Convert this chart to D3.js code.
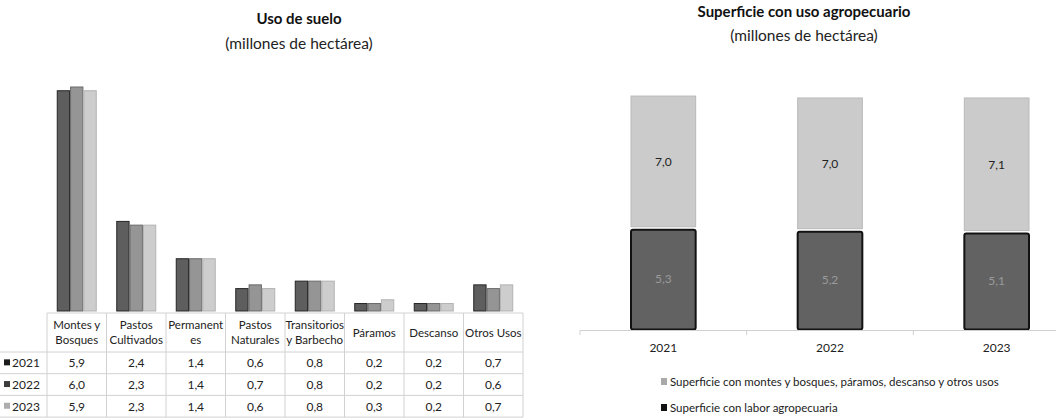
<!DOCTYPE html>
<html>
<head>
<meta charset="utf-8">
<script src="https://cdn.jsdelivr.net/npm/d3@7"></script>
<style>
  body { margin: 0; background: #fff; }
  svg { display: block; font-family: 'Lato', sans-serif; }
</style>
</head>
<body>
<div id="chart"></div>
<script>
// left chart data
const categories = [['Montes y', 'Bosques'], ['Pastos', 'Cultivados'], ['Permanent', 'es'], ['Pastos', 'Naturales'],
  ['Transitorios', 'y Barbecho'], ['Páramos'], ['Descanso'], ['Otros Usos']];
const years = ['2021', '2022', '2023'];
const values2021 = [5.9, 2.4, 1.4, 0.6, 0.8, 0.2, 0.2, 0.7];
const values2022 = [6.0, 2.3, 1.4, 0.7, 0.8, 0.2, 0.2, 0.6];
const values2023 = [5.9, 2.3, 1.4, 0.6, 0.8, 0.3, 0.2, 0.7];

// right chart data
const labor = [5.3, 5.2, 5.1];
const montes = [7.0, 7.0, 7.1];
const legendLabels = ['Superficie con montes y bosques, páramos, descanso y otros usos', 'Superficie con labor agropecuaria'];

const width = 1056;
const height = 419;
const fmt = d3.formatLocale({ decimal: ',', thousands: '.', grouping: [3], currency: ['', ''] }).format('.1f');

const svg = d3.select('#chart').append('svg')
  .attr('width', width)
  .attr('height', height);

// ---------- left: grouped bars + data table ----------
const series = [values2021, values2022, values2023];
const barFill = ['#5e5e5e', '#959595', '#cdcdcd'];
const barStroke = ['#262626', '#6a6a6a', '#b2b2b2'];
const keyFill = ['#1c1c1c', '#3c3c3c', '#adadad'];
const gridColor = '#d2d2d2';

const tableTop = 313;
const headerH = 39;
const rowH = 21.7;

const x0 = d3.scaleBand()
  .domain(categories.map((d, i) => i))
  .range([47, 523]);

const x1 = d3.scaleBand()
  .domain(years)
  .range([0, 40]);

const yLeft = d3.scaleLinear()
  .domain([0, 6])
  .range([311, 87]);

svg.append('text')
  .attr('x', 299).attr('y', 24)
  .attr('text-anchor', 'middle')
  .style('font-weight', 'bold')
  .style('font-size', '15px')
  .style('fill', '#111')
  .text('Uso de suelo');

svg.append('text')
  .attr('x', 299).attr('y', 49)
  .attr('text-anchor', 'middle')
  .style('font-size', '15.5px')
  .style('fill', '#222')
  .text('(millones de hectárea)');

const groups = svg.append('g').classed('bars', true)
  .selectAll('g')
  .data(categories.map((c, i) => i))
  .enter()
  .append('g')
  .attr('transform', i => `translate(${x0(i) + (x0.bandwidth() - 40) / 2},0)`);

groups.selectAll('rect')
  .data(i => series.map((s, k) => ({ k: k, v: s[i] })))
  .enter()
  .append('rect')
  .attr('x', d => x1(years[d.k]) + 0.5)
  .attr('y', d => yLeft(d.v))
  .attr('width', x1.bandwidth() - 1)
  .attr('height', d => yLeft(0) - yLeft(d.v))
  .style('fill', d => barFill[d.k])
  .style('stroke', d => barStroke[d.k])
  .style('stroke-width', 1);

// table grid
const table = svg.append('g').classed('table', true);
const tableBottom = tableTop + headerH + rowH * 3;

table.append('line')
  .attr('x1', 47).attr('x2', 523)
  .attr('y1', tableTop).attr('y2', tableTop)
  .style('stroke', gridColor);

d3.range(4).forEach(r => {
  const yy = tableTop + headerH + r * rowH;
  table.append('line')
    .attr('x1', 0).attr('x2', 523)
    .attr('y1', yy).attr('y2', yy)
    .style('stroke', gridColor);
});

x0.domain().concat([categories.length]).forEach(i => {
  const xx = i < categories.length ? x0(i) : x0.range()[1];
  table.append('line')
    .attr('x1', xx).attr('x2', xx)
    .attr('y1', tableTop).attr('y2', tableBottom)
    .style('stroke', gridColor);
});

// header labels
categories.forEach((c, i) => {
  const cx = x0(i) + x0.bandwidth() / 2;
  const t = table.append('text')
    .attr('text-anchor', 'middle')
    .style('font-size', '11.5px')
    .style('fill', '#222');
  const startY = c.length === 2 ? tableTop + 16 : tableTop + 24;
  c.forEach((line, j) => {
    t.append('tspan')
      .attr('x', cx)
      .attr('y', startY + j * 15)
      .text(line);
  });
});

// rows
years.forEach((yr, k) => {
  const yy = tableTop + headerH + k * rowH;
  table.append('rect')
    .attr('x', 4).attr('y', yy + rowH / 2 - 3.5)
    .attr('width', 6).attr('height', 6)
    .style('fill', keyFill[k]);
  table.append('text')
    .attr('x', 12).attr('y', yy + rowH / 2 + 4.5)
    .style('font-size', '12px')
    .style('fill', '#222')
    .text(yr);
  series[k].forEach((v, i) => {
    table.append('text')
      .attr('x', x0(i) + x0.bandwidth() / 2)
      .attr('y', yy + rowH / 2 + 4.5)
      .attr('text-anchor', 'middle')
      .style('font-size', '12px')
      .style('fill', '#222')
      .text(fmt(v));
  });
});

// ---------- right: stacked bars ----------
const xr = d3.scaleBand()
  .domain(years)
  .range([580, 1080]);

const yRight = d3.scaleLinear()
  .domain([0, 14])
  .range([330, 330 - 14 * 19.1]);

svg.append('text')
  .attr('x', 804).attr('y', 17)
  .attr('text-anchor', 'middle')
  .style('font-weight', 'bold')
  .style('font-size', '15px')
  .style('fill', '#111')
  .text('Superficie con uso agropecuario');

svg.append('text')
  .attr('x', 804).attr('y', 41)
  .attr('text-anchor', 'middle')
  .style('font-size', '15.5px')
  .style('fill', '#222')
  .text('(millones de hectárea)');

const stackData = years.map((yr, i) => ({ year: yr, labor: labor[i], montes: montes[i] }));
const stacked = d3.stack().keys(['labor', 'montes'])(stackData);
const stackFill = { labor: '#626262', montes: '#cbcbcb' };
const stackStroke = { labor: '#121212', montes: '#b9b9b9' };
const labelColor = { labor: '#9a9a9a', montes: '#222' };

const barW = xr.bandwidth() * 0.4;

const layers = svg.append('g').classed('stack', true)
  .selectAll('g')
  .data(stacked)
  .enter()
  .append('g');

layers.selectAll('rect')
  .data(layer => layer.map(d => ({ key: layer.key, d: d })))
  .enter()
  .append('rect')
  .attr('x', e => xr(e.d.data.year) + (xr.bandwidth() - barW) / 2 + 1)
  .attr('y', e => yRight(e.d[1]) + 1)
  .attr('width', barW - 2)
  .attr('height', e => yRight(e.d[0]) - yRight(e.d[1]) - (e.key === 'labor' ? 1.5 : 3))
  .attr('rx', e => e.key === 'labor' ? 2 : 0)
  .style('fill', e => stackFill[e.key])
  .style('stroke', e => stackStroke[e.key])
  .style('stroke-width', e => e.key === 'labor' ? 2 : 1);

layers.selectAll('text')
  .data(layer => layer.map(d => ({ key: layer.key, d: d })))
  .enter()
  .append('text')
  .attr('x', e => xr(e.d.data.year) + xr.bandwidth() / 2)
  .attr('y', e => (yRight(e.d[0]) + yRight(e.d[1])) / 2 + 4)
  .attr('text-anchor', 'middle')
  .style('font-size', '12px')
  .style('fill', e => labelColor[e.key])
  .text(e => fmt(e.d[1] - e.d[0]));

// x axis
const xAxisG = svg.append('g')
  .attr('transform', 'translate(0,330)')
  .call(d3.axisBottom(xr).tickSize(0).tickPadding(13));

xAxisG.select('.domain').style('stroke', '#d0d0d0');
xAxisG.selectAll('text')
  .style('font-family', 'Lato, sans-serif')
  .style('font-size', '12px')
  .style('fill', '#222');

xAxisG.selectAll('.sep')
  .data(years)
  .enter()
  .append('line')
  .attr('x1', d => xr(d)).attr('x2', d => xr(d))
  .attr('y1', 0).attr('y2', 5)
  .style('stroke', '#d0d0d0');

// legend
const legend = svg.append('g').classed('legend', true);
const legendKeys = ['montes', 'labor'];
const legendKeyFill = { montes: '#a9a9a9', labor: '#111' };
legendKeys.forEach((key, i) => {
  const ly = 382 + i * 26;
  legend.append('rect')
    .attr('x', 661).attr('y', ly - 4)
    .attr('width', 6).attr('height', 7)
    .style('fill', legendKeyFill[key]);
  legend.append('text')
    .attr('x', 670).attr('y', ly + 4)
    .style('font-size', '11.5px')
    .style('fill', '#222')
    .text(legendLabels[i]);
});
</script>
</body>
</html>
